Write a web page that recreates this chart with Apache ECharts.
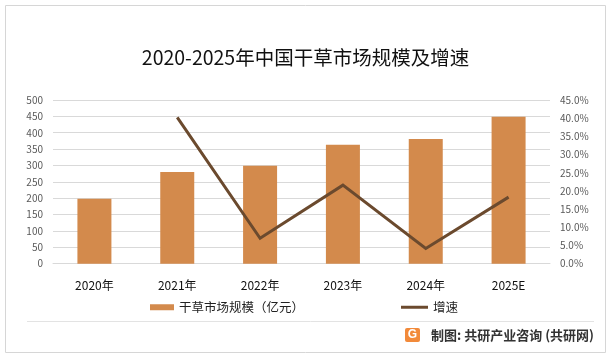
<!DOCTYPE html>
<html>
<head>
<meta charset="utf-8">
<script src="https://cdn.jsdelivr.net/npm/echarts@6/dist/echarts.min.js"></script>
<style>
html,body{margin:0;padding:0;background:#fff;}
#main{width:611px;height:357px;}
</style>
</head>
<body>
<div id="main"></div>
<script>
var categories = ['2020年', '2021年', '2022年', '2023年', '2024年', '2025E'];
var marketSize = [198, 280, 299, 363, 381, 449];
var growthRate = [null, 40.2, 7.0, 21.6, 4.2, 18.3];
var leftTicks = [0, 500, 50];
var rightTicks = [0, 45, 5];
var seriesNames = ['干草市场规模（亿元）', '增速'];
var titleText = '2020-2025年中国干草市场规模及增速';
var footerText = '制图: 共研产业咨询 (共研网)';

var FONT = '"Noto Sans CJK SC", "Liberation Sans", sans-serif';
var chart = echarts.init(document.getElementById('main'), null, {renderer: 'canvas'});
chart.setOption({
  backgroundColor: '#ffffff',
  animation: false,
  textStyle: {fontFamily: FONT},
  title: {
    text: titleText,
    left: 'center',
    top: 43,
    textStyle: {fontSize: 19.5, fontWeight: 'normal', color: '#111', fontFamily: FONT}
  },
  grid: {left: 53, right: 61, top: 100, bottom: 93.3, containLabel: false},
  legend: [{
    left: 145,
    top: 296,
    itemWidth: 24,
    itemHeight: 6,
    textStyle: {fontSize: 12.5, color: '#222', fontFamily: FONT},
    data: [{name: seriesNames[0], icon: 'rect'}]
  }, {
    left: 396,
    top: 296,
    itemWidth: 27,
    itemHeight: 3,
    itemGap: 2,
    textStyle: {fontSize: 12.5, color: '#222', fontFamily: FONT},
    data: [{name: seriesNames[1], icon: 'rect'}]
  }],
  xAxis: {
    type: 'category',
    data: categories,
    axisLine: {lineStyle: {color: '#d9d9d9'}},
    axisTick: {show: false},
    axisLabel: {fontSize: 12, color: '#111', margin: 16, fontFamily: FONT}
  },
  yAxis: [{
    type: 'value',
    min: leftTicks[0], max: leftTicks[1], interval: leftTicks[2],
    axisLine: {show: false}, axisTick: {show: false},
    splitLine: {lineStyle: {color: '#d9d9d9', width: 1}},
    axisLabel: {fontSize: 10, color: '#595959', margin: 10, fontFamily: FONT}
  }, {
    type: 'value',
    min: rightTicks[0], max: rightTicks[1], interval: rightTicks[2],
    axisLine: {show: false}, axisTick: {show: false},
    splitLine: {show: false},
    axisLabel: {fontSize: 10, color: '#595959', margin: 10, fontFamily: FONT,
      formatter: function (v) { return v.toFixed(1) + '%'; }}
  }],
  series: [{
    name: seriesNames[0],
    type: 'bar',
    data: marketSize,
    barWidth: 34,
    itemStyle: {color: '#D38A4C'}
  }, {
    name: seriesNames[1],
    type: 'line',
    yAxisIndex: 1,
    data: growthRate,
    symbol: 'none',
    showSymbol: false,
    connectNulls: false,
    lineStyle: {color: '#6B4A2E', width: 3, join: 'miter'},
    itemStyle: {color: '#6B4A2E'}
  }],
  graphic: [
    {type: 'rect', shape: {x: 5.5, y: 5.5, width: 600, height: 347}, style: {fill: null, stroke: '#d6d6d6', lineWidth: 1}, silent: true, z: -1},
    {type: 'line', shape: {x1: 27, y1: 321.5, x2: 594, y2: 321.5}, style: {stroke: '#e3e3e3', lineWidth: 1}, silent: true},
    {type: 'rect', shape: {x: 405, y: 328, width: 15, height: 14, r: 2}, style: {fill: '#F28A3A'}, silent: true},
    {type: 'text', style: {x: 412.5, y: 335, text: 'G', fill: '#fff', font: 'bold 12px "Liberation Sans", sans-serif', textAlign: 'center', textVerticalAlign: 'middle'}, silent: true},
    {type: 'text', style: {x: 594, y: 335, text: footerText, fill: '#333', font: 'bold 13px "Noto Sans CJK SC", sans-serif', textAlign: 'right', textVerticalAlign: 'middle'}, silent: true}
  ]
});
</script>
</body>
</html>
